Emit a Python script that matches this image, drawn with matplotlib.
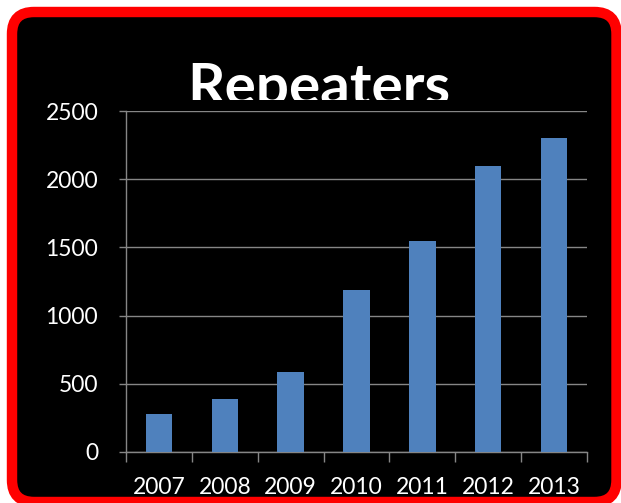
import matplotlib
matplotlib.use("Agg")
import matplotlib.pyplot as plt
from matplotlib.patches import FancyBboxPatch, Rectangle

plt.rcParams['font.family'] = ['Lato', 'DejaVu Sans']

years = ['2007', '2008', '2009', '2010', '2011', '2012', '2013']
repeaters = [280, 390, 590, 1190, 1550, 2100, 2300]
yticks = [0, 500, 1000, 1500, 2000, 2500]

W, H = 621, 503
fig = plt.figure(figsize=(W / 100, H / 100), dpi=100)
fig.patch.set_facecolor('white')

# background panel in pixel coordinates
bg = fig.add_axes([0, 0, 1, 1])
bg.set_xlim(0, W)
bg.set_ylim(H, 0)
bg.axis('off')
frame = FancyBboxPatch((12, 12), 604.5, 490, boxstyle='round,pad=0,rounding_size=22',
                       facecolor='black', edgecolor='#ff0000', linewidth=7.5)
bg.add_patch(frame)
bg.text(319, 105, 'Repeaters', color='white', fontsize=42, fontweight='bold',
        ha='center', va='baseline')
# plot area overlaps the bottom of the title
bg.add_patch(Rectangle((100, 100), 500, 20, facecolor='black', edgecolor='none', zorder=5))

ax = fig.add_axes([126 / W, 1 - 452 / H, 461 / W, 341 / H])
ax.set_facecolor('black')
x = range(len(years))
ax.bar(x, repeaters, width=0.4, color='#4f81bd', zorder=3)

ax.set_xlim(-0.5, len(years) - 0.5)
ax.set_ylim(0, 2500)
ax.set_yticks(yticks)
ax.set_xticks(list(x))
ax.set_xticklabels(years)
ax.set_xticks([i - 0.5 for i in range(len(years) + 1)], minor=True)

grid_c = '#868686'
ax.grid(axis='y', color=grid_c, linewidth=1, zorder=0)
for s in ['top', 'right']:
    ax.spines[s].set_visible(False)
for s in ['left', 'bottom']:
    ax.spines[s].set_color(grid_c)
    ax.spines[s].set_linewidth(1)

ax.tick_params(axis='y', length=5, color=grid_c, width=1, pad=15,
               labelcolor='white', labelsize=16.5)
ax.tick_params(axis='x', which='major', length=0, pad=18,
               labelcolor='white', labelsize=16.5)
ax.tick_params(axis='x', which='minor', length=7, color=grid_c, width=1)

fig.savefig('out.png', dpi=100, facecolor='white')
